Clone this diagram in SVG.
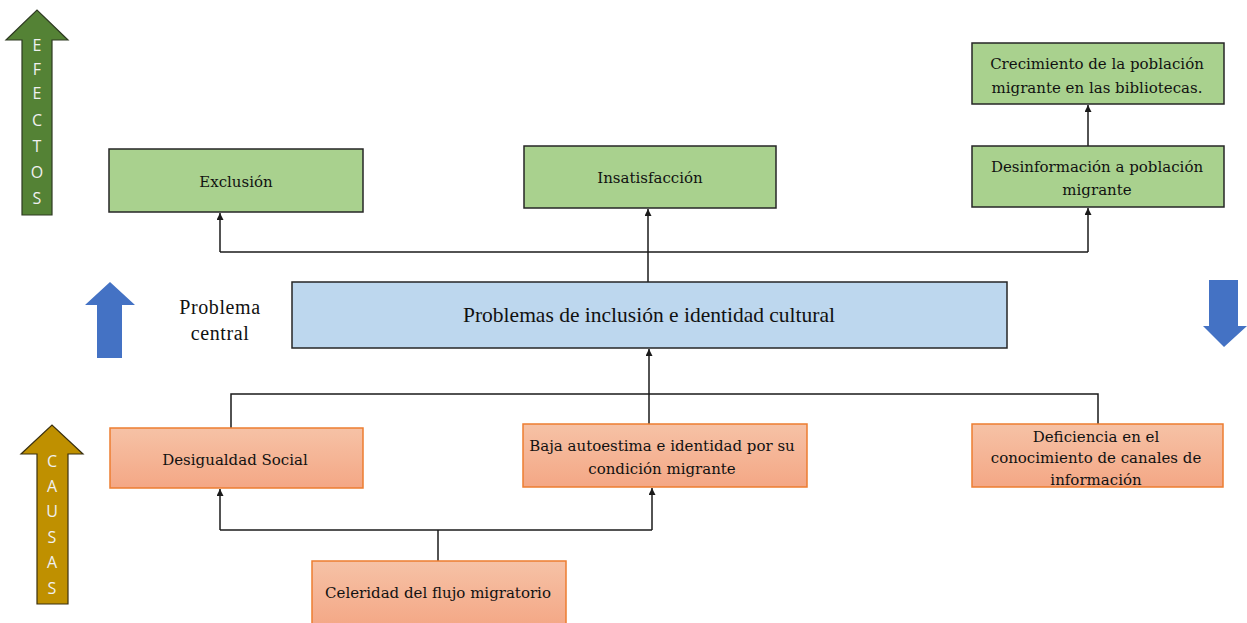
<svg xmlns="http://www.w3.org/2000/svg" width="1247" height="623" viewBox="0 0 1247 623">
<defs>
<style>
.g{fill:#A9D18E;stroke:#262626;stroke-width:1.5}
.o{fill:url(#og);stroke:#ED7D31;stroke-width:1.5}
.b{fill:#BDD7EE;stroke:#262626;stroke-width:1.5}
.t{font-family:"DejaVu Serif","Liberation Serif",serif;font-size:15px;fill:#111;text-anchor:middle}
.tc{font-family:"Liberation Serif",serif;font-size:21.5px;fill:#111;text-anchor:middle}
.l{font-family:"Open Sans","Liberation Sans",sans-serif;font-size:16px;fill:#f0f0f0;text-anchor:middle}
.c{fill:none;stroke:#1a1a1a;stroke-width:1.5}
</style>
<linearGradient id="og" x1="0" y1="0" x2="0" y2="1">
<stop offset="0" stop-color="#F6C2A6"/>
<stop offset="1" stop-color="#F4A785"/>
</linearGradient>
<marker id="ah" viewBox="0 0 10 10" refX="10" refY="5" markerWidth="7" markerHeight="7" markerUnits="userSpaceOnUse" orient="auto">
<path d="M0,0 L10,5 L0,10 z" fill="#1a1a1a"/>
</marker>
</defs>

<g id="efectos-arrow">
<path d="M22,215 L22,40 L6,40 L37,10 L68,40 L52,40 L52,215 Z" fill="#548235" stroke="#2e3a22" stroke-width="1.2"/>
<text class="l" x="37" y="51">E</text>
<text class="l" x="37" y="75">F</text>
<text class="l" x="37" y="99">E</text>
<text class="l" x="37" y="126">C</text>
<text class="l" x="37" y="152">T</text>
<text class="l" x="37" y="178">O</text>
<text class="l" x="37" y="204">S</text>
</g>

<g id="causas-arrow">
<path d="M37,604 L37,454 L21,454 L52,425 L83,454 L68,454 L68,604 Z" fill="#BF9000" stroke="#3a3010" stroke-width="1.2"/>
<text class="l" x="52" y="467">C</text>
<text class="l" x="52" y="492">A</text>
<text class="l" x="52" y="517">U</text>
<text class="l" x="52" y="543">S</text>
<text class="l" x="52" y="568">A</text>
<text class="l" x="52" y="594">S</text>
</g>

<g id="blue-up-arrow">
<path d="M97,358 L97,305 L85,305 L110,282 L135,305 L122,305 L122,358 Z" fill="#4472C4"/>
</g>
<g id="blue-down-arrow">
<path d="M1209,280 L1209,326 L1203,326 L1224,347 L1247,326 L1238,326 L1238,280 Z" fill="#4472C4"/>
</g>

<g id="problema-central-label">
<text class="tc" x="220" y="314" style="font-size:20px;letter-spacing:0.6px">Problema</text>
<text class="tc" x="220" y="340" style="font-size:20px;letter-spacing:0.6px">central</text>
</g>

<g id="connectors">
<path class="c" d="M648,282 L648,252"/>
<path class="c" d="M220,252 L1088,252"/>
<path class="c" d="M220,252 L220,213" marker-end="url(#ah)"/>
<path class="c" d="M648,252 L648,209" marker-end="url(#ah)"/>
<path class="c" d="M1088,252 L1088,208" marker-end="url(#ah)"/>
<path class="c" d="M1088,146 L1088,105" marker-end="url(#ah)"/>
<path class="c" d="M231,428 L231,394 L1098,394 L1098,424"/>
<path class="c" d="M649,424 L649,394"/>
<path class="c" d="M649,394 L649,349" marker-end="url(#ah)"/>
<path class="c" d="M438,561 L438,530"/>
<path class="c" d="M220,530 L652,530"/>
<path class="c" d="M220,530 L220,489" marker-end="url(#ah)"/>
<path class="c" d="M652,530 L652,488" marker-end="url(#ah)"/>
</g>

<g id="exclusion">
<rect class="g" x="109" y="149" width="254" height="63"/>
<text class="t" x="236" y="187">Exclusión</text>
</g>
<g id="insatisfaccion">
<rect class="g" x="524" y="146" width="252" height="62"/>
<text class="t" x="650" y="183">Insatisfacción</text>
</g>
<g id="desinformacion">
<rect class="g" x="972" y="146" width="252" height="61"/>
<text class="t" x="1097" y="172">Desinformación a población</text>
<text class="t" x="1097" y="195">migrante</text>
</g>
<g id="crecimiento">
<rect class="g" x="972" y="43" width="252" height="61"/>
<text class="t" x="1097" y="69">Crecimiento de la población</text>
<text class="t" x="1097" y="93">migrante en las bibliotecas.</text>
</g>
<g id="central">
<rect class="b" x="292" y="282" width="715" height="66"/>
<text class="tc" x="649" y="322">Problemas de inclusión e identidad cultural</text>
</g>
<g id="desigualdad">
<rect class="o" x="110" y="428" width="253" height="60"/>
<text class="t" x="235" y="465">Desigualdad Social</text>
</g>
<g id="baja-autoestima">
<rect class="o" x="523" y="424" width="284" height="63"/>
<text class="t" x="662" y="451">Baja autoestima e identidad por su</text>
<text class="t" x="662" y="474">condición migrante</text>
</g>
<g id="deficiencia">
<rect class="o" x="972" y="424" width="251" height="63"/>
<text class="t" x="1096" y="442">Deficiencia en el</text>
<text class="t" x="1096" y="463">conocimiento de canales de</text>
<text class="t" x="1096" y="485">información</text>
</g>
<g id="celeridad">
<rect class="o" x="312" y="561" width="254" height="66"/>
<text class="t" x="438" y="598">Celeridad del flujo migratorio</text>
</g>
</svg>
